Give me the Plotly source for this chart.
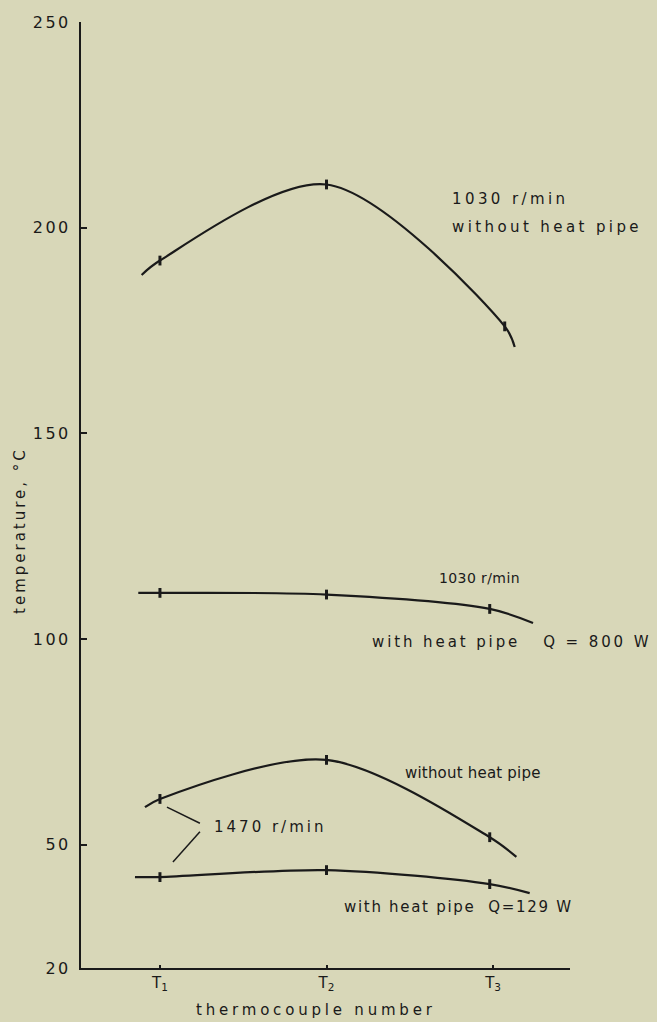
import plotly.graph_objects as go

# ---- data ----
x_top = [0.89, 1.0, 2.0, 3.07, 3.13]          # 1030 r/min without heat pipe
y_top = [188.5, 192.0, 210.5, 176.0, 171.0]

x_mid = [0.87, 1.0, 2.0, 2.98, 3.24]          # 1030 r/min with heat pipe, Q=800 W
y_mid = [111.2, 111.2, 110.8, 107.3, 103.9]

x_low1 = [0.91, 1.0, 2.0, 2.98, 3.14]         # 1470 r/min without heat pipe
y_low1 = [59.1, 61.1, 70.6, 51.8, 47.0]

x_low2 = [0.85, 1.0, 2.0, 2.98, 3.22]         # 1470 r/min with heat pipe, Q=129 W
y_low2 = [42.1, 42.1, 43.8, 40.4, 38.2]

y_ticks = [20, 50, 100, 150, 200, 250]
y_tick_text = ["20", "50", "100", "150", "200", "250"]
x_ticks = [1, 2, 3]
x_tick_text = ["T<sub>1</sub>", "T<sub>2</sub>", "T<sub>3</sub>"]

BG = "#d8d7b8"
INK = "#1a1a1a"
FONT = "DejaVu Sans"


def spaced(t, px=1.6):
    return f'<span style="letter-spacing:{px}px">{t}</span>'


fig = go.Figure()
for xs, ys in [(x_top, y_top), (x_mid, y_mid), (x_low1, y_low1), (x_low2, y_low2)]:
    fig.add_trace(go.Scatter(
        x=xs, y=ys, mode="lines",
        line=dict(color=INK, width=2.2, shape="spline", smoothing=0.9),
        showlegend=False, hoverinfo="skip"))
    fig.add_trace(go.Scatter(
        x=xs[1:4], y=ys[1:4], mode="markers",
        marker=dict(symbol="line-ns-open", size=7, color=INK,
                    line=dict(color=INK, width=3)),
        showlegend=False, hoverinfo="skip"))

# (x, y, text, font size, letter spacing)
labels = [
    (2.742, 207.0, "1030 r/min", 15, 3.4),
    (2.742, 200.2, "without heat pipe", 15, 3.4),
    (2.664, 114.8, "1030 r/min", 14, 0.4),
    (2.261, 99.3, "with heat pipe   Q = 800 W", 15, 2.9),
    (2.459, 67.4, "without heat pipe", 15, 0.2),
    (1.312, 54.3, "1470 r/min", 15, 3.0),
    (2.093, 34.8, "with heat pipe  Q=129 W", 15, 1.7),
]
for x, y, t, s, ls in labels:
    fig.add_annotation(x=x, y=y, text=spaced(t, ls), showarrow=False, xanchor="left",
                       yanchor="middle", font=dict(family=FONT, size=s, color=INK))

# leader lines for 1470 r/min
fig.add_shape(type="line", x0=1.042, y0=59.1, x1=1.24, y1=55.2,
              line=dict(color=INK, width=1.5))
fig.add_shape(type="line", x0=1.078, y0=45.8, x1=1.24, y1=53.1,
              line=dict(color=INK, width=1.5))

# axis titles placed as in the reference
fig.add_annotation(xref="paper", yref="paper", x=-0.1247, y=0.462,
                   text=spaced("temperature, °C", 3.0), textangle=-90,
                   showarrow=False, xanchor="center", yanchor="middle",
                   font=dict(family=FONT, size=15, color=INK))
fig.add_annotation(xref="paper", yref="paper", x=0.4806, y=-0.0444,
                   text=spaced("thermocouple number", 3.8),
                   showarrow=False, xanchor="center", yanchor="middle",
                   font=dict(family=FONT, size=15, color=INK))

fig.update_layout(
    width=657, height=1022,
    margin=dict(l=81, r=87, t=22, b=54),
    paper_bgcolor=BG, plot_bgcolor=BG,
    font=dict(family=FONT, color=INK),
)
fig.update_xaxes(
    range=[0.526, 3.462], showgrid=False, zeroline=False,
    showline=True, linecolor=INK, linewidth=2,
    tickmode="array", tickvals=x_ticks, ticktext=x_tick_text,
    ticks="inside", ticklen=3, tickwidth=2, tickcolor=INK,
    tickfont=dict(family=FONT, size=15, color=INK),
)
fig.update_yaxes(
    range=[20, 250], showgrid=False, zeroline=False,
    showline=True, linecolor=INK, linewidth=2,
    tickmode="array", tickvals=y_ticks,
    ticktext=[spaced(t, 2.5) for t in y_tick_text],
    ticks="inside", ticklen=6, tickwidth=2, tickcolor=INK,
    tickfont=dict(family=FONT, size=16, color=INK),
    ticklabelstandoff=5,
)

fig.write_html("out.html", config={"displayModeBar": False},
               post_script="document.body.style.margin='0';")
